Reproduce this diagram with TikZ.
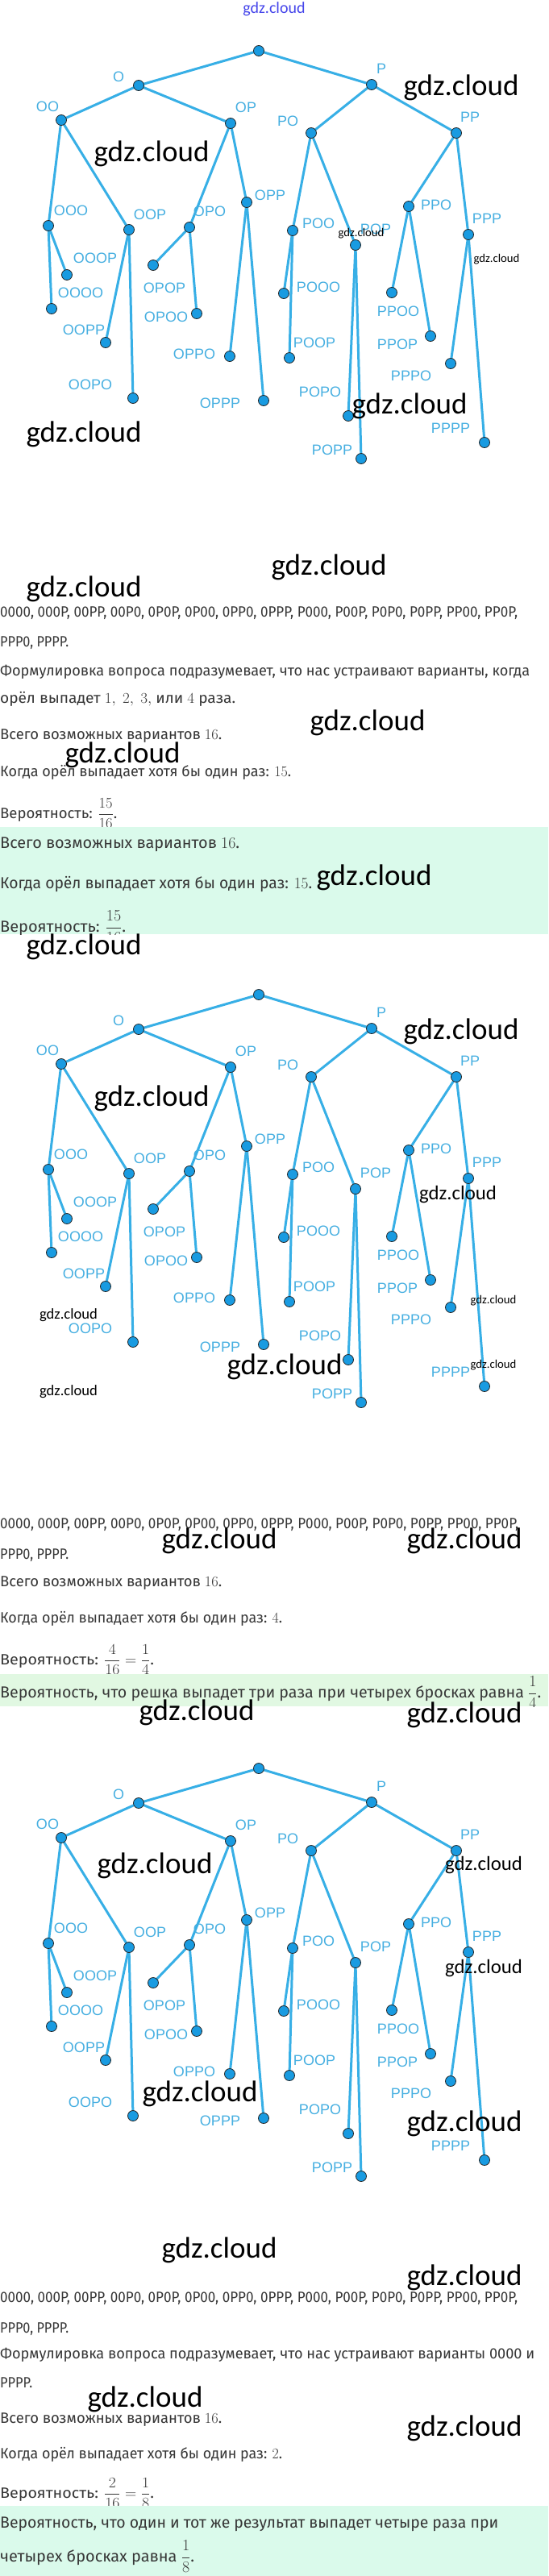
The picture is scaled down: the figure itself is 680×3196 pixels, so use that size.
\RequirePackage{fix-cm}
\documentclass[tikz,border=0pt]{standalone}
\usepackage{amsmath}
\usepackage{graphicx}
\usepackage[no-math]{fontspec}
\setmainfont{Fira Sans}
\newfontfamily\wmfont{Carlito}
\newfontfamily\labfont{Liberation Sans}
\definecolor{edgeblue}{RGB}{55,175,230}
\definecolor{dotblue}{RGB}{25,155,225}
\definecolor{labblue}{RGB}{70,175,225}
\definecolor{bodygray}{RGB}{55,55,55}
\definecolor{mintA}{RGB}{218,250,235}
\definecolor{mintB}{RGB}{225,248,226}
\definecolor{linkblue}{RGB}{70,70,235}
\newcommand{\fitw}[2]{\resizebox{#1pt}{\height}{#2}}
\tikzset{
  edge/.style={draw=edgeblue, line width=3pt},
  dot/.style={circle, fill=dotblue, draw=black!85, line width=0.8pt, minimum size=13pt, inner sep=0pt},
  lab/.style={font=\labfont\fontsize{18}{18}\selectfont, text=labblue, inner sep=0pt},
  body/.style={anchor=base west, inner sep=0pt, text=bodygray, font=\fontsize{18.5}{22}\selectfont},
  gbody/.style={anchor=base west, inner sep=0pt, text=bodygray, font=\fontsize{19.8}{24}\selectfont},
  wmL/.style={font=\wmfont\fontsize{37}{37}\selectfont, text=black, inner sep=0pt},
  wmM/.style={font=\wmfont\fontsize{24.8}{25}\selectfont, text=black, inner sep=0pt},
  wmSM/.style={font=\wmfont\fontsize{18.6}{19}\selectfont, text=black, inner sep=0pt},
  wmS/.style={font=\wmfont\fontsize{14.7}{15}\selectfont, text=black, inner sep=0pt},
}
\newcommand{\cointree}[2]{%
\begin{scope}[shift={(0,#2)}]
\foreach \n/\px/\py in {r/321/63,O/172/106,P/461/105,OO/76/149,OP/286/153,PO/386/165,PP/566/165,
  OOO/60/280,OOP/160/285,OPO/235/282,OPP/306/251,POO/363/286,POP/441/304,PPO/507/256,PPP/581/291,
  OOOO/64/383,OOOP/83/341,OOPP/131/425,OOPO/165/494,OPOP/190/329,OPOO/244/389,OPPO/285/442,OPPP/327/497,
  POOO/352/364,POOP/359/444,POPO/432/516,POPP/448/569,PPOO/486/363,PPOP/534/417,PPPO/559/451,PPPP/601/549}
  \coordinate (#1-\n) at (\px,\py);
\foreach \a/\b in {r/O,r/P,O/OO,O/OP,P/PO,P/PP,OO/OOO,OO/OOP,OP/OPO,OP/OPP,PO/POO,PO/POP,PP/PPO,PP/PPP,
  OOO/OOOO,OOO/OOOP,OOP/OOPP,OOP/OOPO,OPO/OPOP,OPO/OPOO,OPP/OPPO,OPP/OPPP,POO/POOO,POO/POOP,
  POP/POPO,POP/POPP,PPO/PPOO,PPO/PPOP,PPP/PPPO,PPP/PPPP}
  \draw[edge] (#1-\a) -- (#1-\b);
\foreach \n in {r,O,P,OO,OP,PO,PP,OOO,OOP,OPO,OPP,POO,POP,PPO,PPP,OOOO,OOOP,OOPP,OOPO,OPOP,OPOO,OPPO,OPPP,
  POOO,POOP,POPO,POPP,PPOO,PPOP,PPPO,PPPP}
  \node[dot] (#1-d\n) at (#1-\n) {};
\foreach \t/\lx/\ly in {O/147/95,P/473/85,OO/59/132,OP/305/133,PO/357/150,PP/583/145,
  OOO/88/261,OOP/186/266,OPO/260/262,OPP/335/242,POO/395/277,POP/466/284,PPO/541/254,PPP/604/271,
  OOOP/118/320,OOOO/100/363,OOPP/104/409,OOPO/112/477,OPOP/204/357,OPOO/206/393,OPPO/241/439,OPPP/273/500,
  POOO/395/356,POOP/390/425,POPO/397/486,POPP/412/558,PPOO/494/386,PPOP/493/427,PPPO/510/466,PPPP/559/531}
  \node[lab] (#1-l\t) at (\lx,\ly) {\t};
\end{scope}}
\begin{document}
\begin{tikzpicture}[x=1pt,y=-1pt]
\fill[white] (0,0) rectangle (680,3196);
\useasboundingbox (0,0) rectangle (680,3196);
\node[font=\wmfont\fontsize{20}{20}\selectfont, text=linkblue, inner sep=0pt] (link) at (340,11) {gdz.cloud};
% trees
\cointree{ta}{0}
\cointree{tb}{1171}
\cointree{tc}{2131}
% ---------- section 1
\node[body] (s1a) at (0,765) {\fitw{642}{0000, 000P, 00PP, 00P0, 0P0P, 0P00, 0PP0, 0PPP, P000, P00P, P0P0, P0PP, PP00, PP0P,}};
\node[body] (s1b) at (0,802) {\fitw{85}{PPP0, PPPP.}};
\node[body] (s1c) at (0,838) {\fitw{657}{Формулировка вопроса подразумевает, что нас устраивают варианты, когда}};
\node[body] (s1d) at (0,872) {\fitw{292}{орёл выпадет $1,\ 2,\ 3,$ или $4$ раза.}};
\node[body] (s1e) at (0,917) {\fitw{275}{Всего возможных вариантов $16$.}};
\node[body] (s1f) at (0,963) {\fitw{361}{Когда орёл выпадает хотя бы один раз: $15$.}};
\node[body] (s1g) at (0,1015) {\fitw{145}{Вероятность: $\dfrac{15}{16}$.}};
\fill[mintA] (0,1026) rectangle (680,1159);
\begin{scope}
\clip (0,1026) rectangle (680,1159);
\node[gbody] (g1a) at (0,1052) {\fitw{297}{Всего возможных вариантов $16$.}};
\node[gbody] (g1b) at (0,1102) {\fitw{387}{Когда орёл выпадает хотя бы один раз: $15$.}};
\node[gbody] (g1c) at (0,1156) {\fitw{156}{Вероятность: $\dfrac{15}{16}$.}};
\end{scope}
% ---------- section 2
\node[body] (s2a) at (0,1896) {\fitw{643}{0000, 000P, 00PP, 00P0, 0P0P, 0P00, 0PP0, 0PPP, P000, P00P, P0P0, P0PP, PP00, PP0P,}};
\node[body] (s2b) at (0,1934) {\fitw{85}{PPP0, PPPP.}};
\node[body] (s2c) at (0,1968) {\fitw{275}{Всего возможных вариантов $16$.}};
\node[body] (s2d) at (0,2013) {\fitw{350}{Когда орёл выпадает хотя бы один раз: $4$.}};
\node[body] (s2e) at (0,2065) {\fitw{191}{Вероятность: $\dfrac{4}{16}=\dfrac{1}{4}$.}};
\fill[mintB] (0,2077) rectangle (680,2117);
\begin{scope}
\clip (0,2077) rectangle (680,2117);
\node[gbody] (g2a) at (0,2106) {\fitw{671}{Вероятность, что решка выпадет три раза при четырех бросках равна $\dfrac{1}{4}$.}};
\end{scope}
% ---------- section 3
\node[body] (s3a) at (0,2856) {\fitw{642}{0000, 000P, 00PP, 00P0, 0P0P, 0P00, 0PP0, 0PPP, P000, P00P, P0P0, P0PP, PP00, PP0P,}};
\node[body] (s3b) at (0,2894) {\fitw{85}{PPP0, PPPP.}};
\node[body] (s3c) at (0,2926) {\fitw{663}{Формулировка вопроса подразумевает, что нас устраивают варианты 0000 и}};
\node[body] (s3d) at (0,2962) {\fitw{40}{PPPP.}};
\node[body] (s3e) at (0,3006) {\fitw{275}{Всего возможных вариантов $16$.}};
\node[body] (s3f) at (0,3050) {\fitw{350}{Когда орёл выпадает хотя бы один раз: $2$.}};
\node[body] (s3g) at (0,3099) {\fitw{191}{Вероятность: $\dfrac{2}{16}=\dfrac{1}{8}$.}};
\fill[mintA] (0,3109) rectangle (680,3196);
\begin{scope}
\clip (0,3109) rectangle (680,3196);
\node[gbody] (g3a) at (0,3136) {\fitw{618}{Вероятность, что один и тот же результат выпадет четыре раза при}};
\node[gbody] (g3b) at (0,3178) {\fitw{241}{четырех бросках равна $\dfrac{1}{8}$.}};
\end{scope}
% ---------- watermarks
\node[wmL] (w1) at (572,109) {gdz.cloud};
\node[wmL] (w2) at (188,191) {gdz.cloud};
\node[wmS] (w3) at (448,290) {gdz.cloud};
\node[wmS] (w4) at (616,322) {gdz.cloud};
\node[wmL] (w5) at (508,504) {gdz.cloud};
\node[wmL] (w6) at (104,539) {gdz.cloud};
\node[wmL] (w7) at (408,704) {gdz.cloud};
\node[wmL] (w8) at (104,731) {gdz.cloud};
\node[wmL] (w9) at (456,897) {gdz.cloud};
\node[wmL] (w10) at (152,937) {gdz.cloud};
\node[wmL] (w11) at (464,1089) {gdz.cloud};
\node[wmL] (w12) at (104,1175) {gdz.cloud};
\node[wmL] (w13) at (572,1280) {gdz.cloud};
\node[wmL] (w14) at (188,1363) {gdz.cloud};
\node[wmM] (w15) at (568,1482) {gdz.cloud};
\node[wmSM] (w16) at (85,1632) {gdz.cloud};
\node[wmS] (w17) at (612,1614) {gdz.cloud};
\node[wmL] (w18) at (353,1696) {gdz.cloud};
\node[wmS] (w19) at (612,1694) {gdz.cloud};
\node[wmSM] (w20) at (85,1727) {gdz.cloud};
\node[wmL] (w21) at (272,1912) {gdz.cloud};
\node[wmL] (w22) at (576,1912) {gdz.cloud};
\node[wmL] (w23) at (244,2125) {gdz.cloud};
\node[wmL] (w24) at (576,2128) {gdz.cloud};
\node[wmL] (w25) at (192,2315) {gdz.cloud};
\node[wmM] (w26) at (600,2314) {gdz.cloud};
\node[wmM] (w27) at (600,2442) {gdz.cloud};
\node[wmL] (w28) at (248,2598) {gdz.cloud};
\node[wmL] (w29) at (576,2635) {gdz.cloud};
\node[wmL] (w30) at (272,2792) {gdz.cloud};
\node[wmL] (w31) at (576,2826) {gdz.cloud};
\node[wmL] (w32) at (180,2977) {gdz.cloud};
\node[wmL] (w33) at (576,3013) {gdz.cloud};
\end{tikzpicture}
\end{document}
